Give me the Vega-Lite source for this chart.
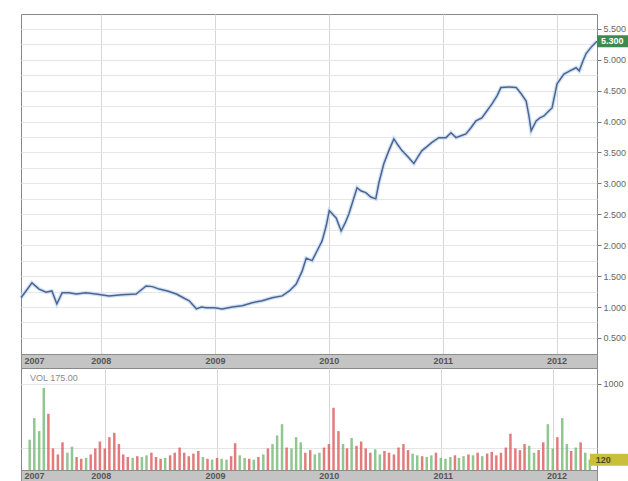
{
  "$schema": "https://vega.github.io/schema/vega-lite/v6.json",
  "padding": {"left": 12, "top": 13, "right": 0, "bottom": 0},
  "background": "white",
  "spacing": 0,
  "bounds": "flush",
  "config": {"font": "Liberation Sans", "view": {"stroke": "#888888"}},
  "resolve": {"scale": {"x": "independent", "y": "independent"}},
  "datasets": {
    "price": [
      {"date": "2007-04-19", "close": 1.15}, {"date": "2007-05-05", "close": 1.26}, {"date": "2007-05-24", "close": 1.39},
      {"date": "2007-06-16", "close": 1.29}, {"date": "2007-07-08", "close": 1.24}, {"date": "2007-07-27", "close": 1.26},
      {"date": "2007-08-12", "close": 1.05}, {"date": "2007-08-29", "close": 1.23}, {"date": "2007-09-20", "close": 1.23},
      {"date": "2007-10-13", "close": 1.21}, {"date": "2007-11-13", "close": 1.23}, {"date": "2007-12-15", "close": 1.21},
      {"date": "2008-01-26", "close": 1.18}, {"date": "2008-03-08", "close": 1.20}, {"date": "2008-04-22", "close": 1.21},
      {"date": "2008-05-24", "close": 1.34}, {"date": "2008-06-13", "close": 1.33}, {"date": "2008-07-05", "close": 1.29},
      {"date": "2008-07-31", "close": 1.26}, {"date": "2008-08-29", "close": 1.21}, {"date": "2008-09-20", "close": 1.15},
      {"date": "2008-10-09", "close": 1.10}, {"date": "2008-11-01", "close": 0.97}, {"date": "2008-11-17", "close": 1.00},
      {"date": "2008-12-03", "close": 0.99}, {"date": "2008-12-29", "close": 0.99}, {"date": "2009-01-23", "close": 0.97},
      {"date": "2009-02-24", "close": 1.00}, {"date": "2009-03-28", "close": 1.02}, {"date": "2009-04-29", "close": 1.07},
      {"date": "2009-05-31", "close": 1.10}, {"date": "2009-07-02", "close": 1.15}, {"date": "2009-08-03", "close": 1.18},
      {"date": "2009-08-26", "close": 1.26}, {"date": "2009-09-17", "close": 1.37}, {"date": "2009-10-06", "close": 1.58},
      {"date": "2009-10-19", "close": 1.79}, {"date": "2009-11-07", "close": 1.75}, {"date": "2009-11-23", "close": 1.91},
      {"date": "2009-12-09", "close": 2.07}, {"date": "2009-12-22", "close": 2.31}, {"date": "2010-01-01", "close": 2.56},
      {"date": "2010-01-14", "close": 2.49}, {"date": "2010-01-23", "close": 2.44}, {"date": "2010-02-08", "close": 2.23},
      {"date": "2010-02-21", "close": 2.36}, {"date": "2010-03-05", "close": 2.51}, {"date": "2010-03-18", "close": 2.72},
      {"date": "2010-03-31", "close": 2.93}, {"date": "2010-04-12", "close": 2.88}, {"date": "2010-04-28", "close": 2.85},
      {"date": "2010-05-14", "close": 2.78}, {"date": "2010-05-30", "close": 2.75}, {"date": "2010-06-09", "close": 3.01},
      {"date": "2010-06-25", "close": 3.32}, {"date": "2010-07-11", "close": 3.53}, {"date": "2010-07-27", "close": 3.72},
      {"date": "2010-08-09", "close": 3.62}, {"date": "2010-08-22", "close": 3.53}, {"date": "2010-09-10", "close": 3.43},
      {"date": "2010-09-29", "close": 3.32}, {"date": "2010-10-12", "close": 3.43}, {"date": "2010-10-25", "close": 3.53},
      {"date": "2010-11-09", "close": 3.59}, {"date": "2010-11-25", "close": 3.66}, {"date": "2010-12-18", "close": 3.74},
      {"date": "2011-01-10", "close": 3.74}, {"date": "2011-01-26", "close": 3.82}, {"date": "2011-02-11", "close": 3.74},
      {"date": "2011-02-27", "close": 3.77}, {"date": "2011-03-15", "close": 3.80}, {"date": "2011-03-31", "close": 3.90},
      {"date": "2011-04-16", "close": 4.01}, {"date": "2011-05-05", "close": 4.06}, {"date": "2011-05-21", "close": 4.17},
      {"date": "2011-06-07", "close": 4.29}, {"date": "2011-06-23", "close": 4.42}, {"date": "2011-07-05", "close": 4.55},
      {"date": "2011-07-31", "close": 4.56}, {"date": "2011-08-23", "close": 4.55}, {"date": "2011-09-08", "close": 4.45},
      {"date": "2011-09-24", "close": 4.33}, {"date": "2011-10-03", "close": 4.09}, {"date": "2011-10-10", "close": 3.85},
      {"date": "2011-10-26", "close": 4.01}, {"date": "2011-11-07", "close": 4.06}, {"date": "2011-11-20", "close": 4.09},
      {"date": "2011-12-03", "close": 4.16}, {"date": "2011-12-16", "close": 4.22}, {"date": "2012-01-01", "close": 4.61},
      {"date": "2012-01-23", "close": 4.77}, {"date": "2012-02-11", "close": 4.82}, {"date": "2012-03-02", "close": 4.87},
      {"date": "2012-03-12", "close": 4.82}, {"date": "2012-03-24", "close": 4.98}, {"date": "2012-04-03", "close": 5.10},
      {"date": "2012-04-22", "close": 5.22}, {"date": "2012-05-08", "close": 5.30}
    ],
    "volume": [
      {"date": "2007-05-01", "vol": 350, "dir": "up"}, {"date": "2007-05-16", "vol": 600, "dir": "up"},
      {"date": "2007-06-01", "vol": 450, "dir": "up"}, {"date": "2007-06-16", "vol": 950, "dir": "up"},
      {"date": "2007-07-01", "vol": 650, "dir": "down"}, {"date": "2007-07-16", "vol": 250, "dir": "down"},
      {"date": "2007-08-01", "vol": 180, "dir": "down"}, {"date": "2007-08-16", "vol": 320, "dir": "down"},
      {"date": "2007-09-01", "vol": 200, "dir": "up"}, {"date": "2007-09-16", "vol": 270, "dir": "up"},
      {"date": "2007-10-01", "vol": 150, "dir": "down"}, {"date": "2007-10-16", "vol": 130, "dir": "down"},
      {"date": "2007-11-01", "vol": 140, "dir": "up"}, {"date": "2007-11-16", "vol": 180, "dir": "down"},
      {"date": "2007-12-01", "vol": 250, "dir": "down"}, {"date": "2007-12-16", "vol": 330, "dir": "down"},
      {"date": "2008-01-01", "vol": 250, "dir": "down"}, {"date": "2008-01-16", "vol": 380, "dir": "down"},
      {"date": "2008-02-01", "vol": 430, "dir": "down"}, {"date": "2008-02-16", "vol": 300, "dir": "down"},
      {"date": "2008-03-01", "vol": 180, "dir": "down"}, {"date": "2008-03-16", "vol": 150, "dir": "down"},
      {"date": "2008-04-01", "vol": 140, "dir": "up"}, {"date": "2008-04-16", "vol": 160, "dir": "down"},
      {"date": "2008-05-01", "vol": 150, "dir": "up"}, {"date": "2008-05-16", "vol": 170, "dir": "up"},
      {"date": "2008-06-01", "vol": 200, "dir": "down"}, {"date": "2008-06-16", "vol": 150, "dir": "down"},
      {"date": "2008-07-01", "vol": 130, "dir": "down"}, {"date": "2008-07-16", "vol": 140, "dir": "up"},
      {"date": "2008-08-01", "vol": 170, "dir": "down"}, {"date": "2008-08-16", "vol": 200, "dir": "down"},
      {"date": "2008-09-01", "vol": 260, "dir": "down"}, {"date": "2008-09-16", "vol": 200, "dir": "down"},
      {"date": "2008-10-01", "vol": 160, "dir": "down"}, {"date": "2008-10-16", "vol": 190, "dir": "down"},
      {"date": "2008-11-01", "vol": 220, "dir": "down"}, {"date": "2008-11-16", "vol": 150, "dir": "up"},
      {"date": "2008-12-01", "vol": 130, "dir": "down"}, {"date": "2008-12-16", "vol": 120, "dir": "up"},
      {"date": "2009-01-01", "vol": 140, "dir": "down"}, {"date": "2009-01-16", "vol": 130, "dir": "up"},
      {"date": "2009-02-01", "vol": 120, "dir": "up"}, {"date": "2009-02-16", "vol": 160, "dir": "down"},
      {"date": "2009-03-01", "vol": 310, "dir": "down"}, {"date": "2009-03-16", "vol": 170, "dir": "up"},
      {"date": "2009-04-01", "vol": 140, "dir": "up"}, {"date": "2009-04-16", "vol": 130, "dir": "down"},
      {"date": "2009-05-01", "vol": 120, "dir": "up"}, {"date": "2009-05-16", "vol": 150, "dir": "down"},
      {"date": "2009-06-01", "vol": 180, "dir": "up"}, {"date": "2009-06-16", "vol": 250, "dir": "down"},
      {"date": "2009-07-01", "vol": 300, "dir": "up"}, {"date": "2009-07-16", "vol": 400, "dir": "up"},
      {"date": "2009-08-01", "vol": 530, "dir": "up"}, {"date": "2009-08-16", "vol": 260, "dir": "down"},
      {"date": "2009-09-01", "vol": 250, "dir": "up"}, {"date": "2009-09-16", "vol": 380, "dir": "up"},
      {"date": "2009-10-01", "vol": 320, "dir": "up"}, {"date": "2009-10-16", "vol": 200, "dir": "down"},
      {"date": "2009-11-01", "vol": 230, "dir": "down"}, {"date": "2009-11-16", "vol": 180, "dir": "up"},
      {"date": "2009-12-01", "vol": 200, "dir": "up"}, {"date": "2009-12-16", "vol": 260, "dir": "down"},
      {"date": "2010-01-01", "vol": 300, "dir": "down"}, {"date": "2010-01-16", "vol": 720, "dir": "down"},
      {"date": "2010-02-01", "vol": 450, "dir": "down"}, {"date": "2010-02-16", "vol": 300, "dir": "up"},
      {"date": "2010-03-01", "vol": 250, "dir": "down"}, {"date": "2010-03-16", "vol": 370, "dir": "up"},
      {"date": "2010-04-01", "vol": 280, "dir": "down"}, {"date": "2010-04-16", "vol": 330, "dir": "down"},
      {"date": "2010-05-01", "vol": 250, "dir": "down"}, {"date": "2010-05-16", "vol": 200, "dir": "down"},
      {"date": "2010-06-01", "vol": 240, "dir": "up"}, {"date": "2010-06-16", "vol": 180, "dir": "up"},
      {"date": "2010-07-01", "vol": 220, "dir": "down"}, {"date": "2010-07-16", "vol": 200, "dir": "down"},
      {"date": "2010-08-01", "vol": 180, "dir": "down"}, {"date": "2010-08-16", "vol": 260, "dir": "down"},
      {"date": "2010-09-01", "vol": 300, "dir": "down"}, {"date": "2010-09-16", "vol": 230, "dir": "down"},
      {"date": "2010-10-01", "vol": 190, "dir": "up"}, {"date": "2010-10-16", "vol": 170, "dir": "up"},
      {"date": "2010-11-01", "vol": 160, "dir": "down"}, {"date": "2010-11-16", "vol": 150, "dir": "up"},
      {"date": "2010-12-01", "vol": 170, "dir": "up"}, {"date": "2010-12-16", "vol": 200, "dir": "down"},
      {"date": "2011-01-01", "vol": 140, "dir": "up"}, {"date": "2011-01-16", "vol": 130, "dir": "up"},
      {"date": "2011-02-01", "vol": 150, "dir": "up"}, {"date": "2011-02-16", "vol": 170, "dir": "down"},
      {"date": "2011-03-01", "vol": 140, "dir": "up"}, {"date": "2011-03-16", "vol": 160, "dir": "up"},
      {"date": "2011-04-01", "vol": 180, "dir": "down"}, {"date": "2011-04-16", "vol": 170, "dir": "up"},
      {"date": "2011-05-01", "vol": 200, "dir": "down"}, {"date": "2011-05-16", "vol": 160, "dir": "up"},
      {"date": "2011-06-01", "vol": 190, "dir": "down"}, {"date": "2011-06-16", "vol": 210, "dir": "down"},
      {"date": "2011-07-01", "vol": 170, "dir": "down"}, {"date": "2011-07-16", "vol": 200, "dir": "down"},
      {"date": "2011-08-01", "vol": 260, "dir": "down"}, {"date": "2011-08-16", "vol": 420, "dir": "down"},
      {"date": "2011-09-01", "vol": 250, "dir": "down"}, {"date": "2011-09-16", "vol": 230, "dir": "down"},
      {"date": "2011-10-01", "vol": 300, "dir": "down"}, {"date": "2011-10-16", "vol": 280, "dir": "up"},
      {"date": "2011-11-01", "vol": 200, "dir": "up"}, {"date": "2011-11-16", "vol": 230, "dir": "down"},
      {"date": "2011-12-01", "vol": 320, "dir": "down"}, {"date": "2011-12-16", "vol": 530, "dir": "up"},
      {"date": "2012-01-01", "vol": 250, "dir": "up"}, {"date": "2012-01-16", "vol": 380, "dir": "down"},
      {"date": "2012-02-01", "vol": 600, "dir": "up"}, {"date": "2012-02-16", "vol": 300, "dir": "up"},
      {"date": "2012-03-01", "vol": 220, "dir": "down"}, {"date": "2012-03-16", "vol": 260, "dir": "up"},
      {"date": "2012-04-01", "vol": 320, "dir": "down"}, {"date": "2012-04-16", "vol": 200, "dir": "up"},
      {"date": "2012-05-01", "vol": 120, "dir": "up"}
    ],
    "years": [
      {"date": "2007-06-01", "label": "2007"}, {"date": "2008-01-01", "label": "2008"},
      {"date": "2009-01-01", "label": "2009"}, {"date": "2010-01-01", "label": "2010"},
      {"date": "2011-01-01", "label": "2011"}, {"date": "2012-01-01", "label": "2012"}
    ]
  },
  "vconcat": [
    {
      "width": 576,
      "height": 340,
      "data": {"name": "price"},
      "encoding": {
        "x": {
          "field": "date", "type": "temporal",
          "scale": {"type": "utc", "domain": [{"year": 2007, "month": 4, "date": 19, "utc": true}, {"year": 2012, "month": 5, "date": 8, "utc": true}]},
          "axis": {"labels": false, "ticks": false, "domain": false, "title": null, "grid": true, "gridColor": "#d6d6d6",
            "values": [{"year": 2008, "utc": true}, {"year": 2009, "utc": true}, {"year": 2010, "utc": true}, {"year": 2011, "utc": true}, {"year": 2012, "utc": true}]}
        },
        "y": {
          "field": "close", "type": "quantitative",
          "scale": {"domain": [0.24, 5.74], "nice": false, "zero": false},
          "axis": {"orient": "right", "title": null, "format": ".3f",
            "values": [0.5, 0.75, 1, 1.25, 1.5, 1.75, 2, 2.25, 2.5, 2.75, 3, 3.25, 3.5, 3.75, 4, 4.25, 4.5, 4.75, 5, 5.25, 5.5],
            "labelExpr": "(round(datum.value*100) % 50 == 0) ? datum.label : ''",
            "tickOpacity": {"condition": {"test": "round(datum.value*100) % 50 == 0", "value": 1}, "value": 0},
            "grid": true, "gridColor": "#e6e6e6", "tickSize": 4, "tickColor": "#777777",
            "labelFontSize": 9, "labelColor": "#666666", "domain": false, "labelPadding": 2}
        }
      },
      "layer": [
        {"mark": {"type": "line", "color": "#c4dcf2", "strokeWidth": 4, "opacity": 0.8}},
        {"mark": {"type": "line", "color": "#4f6391", "strokeWidth": 1.5}},
        {"transform": [{"filter": {"field": "date", "equal": {"year": 2012, "month": 5, "date": 8, "utc": true}}}],
          "mark": {"type": "point", "shape": "M0,-0.3H2V0.3H0Z", "size": 1600, "filled": true, "color": "#3e8a4e", "opacity": 1}},
        {"transform": [{"filter": {"field": "date", "equal": {"year": 2012, "month": 5, "date": 8, "utc": true}}}],
          "mark": {"type": "text", "align": "left", "baseline": "middle", "dx": 4, "color": "white", "fontSize": 9, "fontWeight": "bold"},
          "encoding": {"text": {"field": "close", "type": "quantitative", "format": ".3f"}}}
      ]
    },
    {
      "width": 576,
      "height": 14,
      "view": {"fill": "#c4c4c4", "stroke": "#8c8c8c"},
      "data": {"name": "years"},
      "mark": {"type": "text", "fontSize": 9, "fontWeight": "bold", "color": "#555555", "baseline": "middle"},
      "encoding": {
        "x": {"field": "date", "type": "temporal",
          "scale": {"type": "utc", "domain": [{"year": 2007, "month": 4, "date": 19, "utc": true}, {"year": 2012, "month": 5, "date": 8, "utc": true}]},
          "axis": null},
        "text": {"field": "label"}
      }
    },
    {
      "width": 576,
      "height": 102,
      "layer": [
        {
          "data": {"name": "volume"},
          "mark": {"type": "bar", "size": 2.5, "opacity": 0.75},
          "encoding": {
            "x": {"field": "date", "type": "temporal",
              "scale": {"type": "utc", "domain": [{"year": 2007, "month": 4, "date": 19, "utc": true}, {"year": 2012, "month": 5, "date": 8, "utc": true}]},
              "axis": {"labels": false, "ticks": false, "domain": false, "title": null, "grid": true, "gridColor": "#d6d6d6",
                "values": [{"year": 2008, "utc": true}, {"year": 2009, "utc": true}, {"year": 2010, "utc": true}, {"year": 2011, "utc": true}, {"year": 2012, "utc": true}]}},
            "y": {"field": "vol", "type": "quantitative",
              "scale": {"domain": [0, 1180], "nice": false},
              "axis": {"orient": "right", "title": null, "values": [250, 500, 750, 1000],
                "labelExpr": "(datum.value % 500 == 0) ? datum.label : ''",
                "tickOpacity": {"condition": {"test": "datum.value % 500 == 0", "value": 1}, "value": 0},
                "format": "d", "grid": true, "gridColor": "#e6e6e6", "tickSize": 4, "tickColor": "#777777",
                "labelFontSize": 9, "labelColor": "#666666", "domain": false, "labelPadding": 2}},
            "color": {"field": "dir", "type": "nominal", "scale": {"domain": ["up", "down"], "range": ["#6cb36c", "#d85050"]}, "legend": null}
          }
        },
        {
          "data": {"values": [{"label": "VOL 175.00"}]},
          "mark": {"type": "text", "align": "left", "baseline": "middle", "fontSize": 9, "color": "#8a8a8a", "dx": 4},
          "encoding": {
            "x": {"datum": {"year": 2007, "month": 4, "date": 19, "utc": true}, "type": "temporal"},
            "y": {"datum": 1060, "type": "quantitative"},
            "text": {"field": "label"}
          }
        },
        {
          "data": {"name": "volume"},
          "transform": [{"filter": {"field": "date", "equal": {"year": 2012, "month": 5, "date": 1, "utc": true}}}],
          "mark": {"type": "point", "shape": "M0,-0.3H2V0.3H0Z", "size": 1600, "filled": true, "color": "#c9bf3a", "opacity": 1},
          "encoding": {"x": {"field": "date", "type": "temporal"}, "y": {"field": "vol", "type": "quantitative"}}
        },
        {
          "data": {"name": "volume"},
          "transform": [{"filter": {"field": "date", "equal": {"year": 2012, "month": 5, "date": 1, "utc": true}}}],
          "mark": {"type": "text", "align": "left", "baseline": "middle", "dx": 6, "color": "#4a4a20", "fontSize": 9, "fontWeight": "bold"},
          "encoding": {"x": {"field": "date", "type": "temporal"}, "y": {"field": "vol", "type": "quantitative"}, "text": {"field": "vol", "type": "quantitative"}}
        }
      ]
    },
    {
      "width": 576,
      "height": 12,
      "view": {"fill": "#c4c4c4", "stroke": "#8c8c8c"},
      "data": {"name": "years"},
      "mark": {"type": "text", "fontSize": 9, "fontWeight": "bold", "color": "#555555", "baseline": "middle"},
      "encoding": {
        "x": {"field": "date", "type": "temporal",
          "scale": {"type": "utc", "domain": [{"year": 2007, "month": 4, "date": 19, "utc": true}, {"year": 2012, "month": 5, "date": 8, "utc": true}]},
          "axis": null},
        "text": {"field": "label"}
      }
    }
  ]
}
